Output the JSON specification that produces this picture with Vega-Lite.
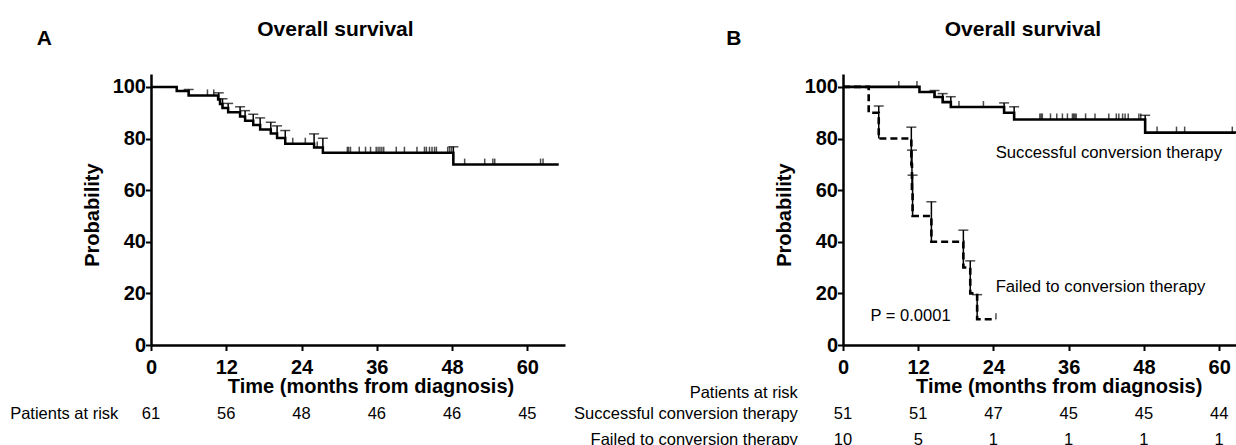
{
  "$schema": "https://vega.github.io/schema/vega-lite/v6.json",
  "background": "white",
  "padding": {"left": 10, "top": 19, "right": 0, "bottom": 0},
  "bounds": "flush",
  "spacing": 278,
  "config": {
    "font": "Liberation Sans",
    "view": {"stroke": null},
    "axis": {
      "grid": false,
      "domainColor": "black",
      "domainWidth": 2.5,
      "tickColor": "black",
      "tickWidth": 2,
      "tickSize": 5.5,
      "labelFont": "Liberation Sans",
      "labelFontSize": 20,
      "labelFontWeight": "bold",
      "labelColor": "black",
      "labelOverlap": false,
      "labelFlush": false,
      "titleFont": "Liberation Sans",
      "titleFontSize": 20,
      "titleFontWeight": "bold",
      "titleColor": "black"
    },
    "text": {"color": "black", "font": "Liberation Sans"}
  },
  "datasets": {
    "curveA": [
      {"t": 0, "s": 100}, {"t": 4.1, "s": 98.4}, {"t": 6.0, "s": 96.7}, {"t": 10.7, "s": 95.1},
      {"t": 11.0, "s": 93.4}, {"t": 11.4, "s": 91.8}, {"t": 12.3, "s": 90.2}, {"t": 14.2, "s": 88.5},
      {"t": 15.0, "s": 86.9}, {"t": 16.3, "s": 85.2}, {"t": 17.4, "s": 83.5}, {"t": 19.1, "s": 81.9},
      {"t": 20.1, "s": 80.2}, {"t": 21.4, "s": 78.0}, {"t": 26.0, "s": 76.5}, {"t": 27.4, "s": 74.5},
      {"t": 48.2, "s": 69.9}, {"t": 65.0, "s": 69.9}
    ],
    "barsA": [
      {"t": 6.0, "s": 96.7, "up": 99.0}, {"t": 10.8, "s": 95.1, "up": 97.7}, {"t": 11.4, "s": 91.8, "up": 95.4},
      {"t": 12.3, "s": 90.2, "up": 93.6}, {"t": 14.2, "s": 88.5, "up": 92.3}, {"t": 15.0, "s": 86.9, "up": 90.8},
      {"t": 16.3, "s": 85.2, "up": 89.4}, {"t": 17.4, "s": 83.5, "up": 88.0}, {"t": 19.1, "s": 81.9, "up": 86.3},
      {"t": 20.1, "s": 80.2, "up": 84.9}, {"t": 21.4, "s": 78.0, "up": 83.1}, {"t": 26.0, "s": 76.5, "up": 81.8},
      {"t": 27.4, "s": 74.5, "up": 80.1}, {"t": 48.2, "s": 69.9, "up": 76.8}
    ],
    "censA": [
      {"t": 9.0, "s": 96.7}, {"t": 10.0, "s": 96.7}, {"t": 22.6, "s": 78.0}, {"t": 24.6, "s": 78.0}, {"t": 26.5, "s": 76.5},
      {"t": 31.3, "s": 74.5}, {"t": 31.5, "s": 74.5}, {"t": 31.8, "s": 74.5}, {"t": 33.2, "s": 74.5}, {"t": 34.2, "s": 74.5},
      {"t": 35.0, "s": 74.5}, {"t": 35.9, "s": 74.5}, {"t": 36.2, "s": 74.5}, {"t": 36.5, "s": 74.5}, {"t": 36.8, "s": 74.5},
      {"t": 37.1, "s": 74.5}, {"t": 39.1, "s": 74.5}, {"t": 40.4, "s": 74.5}, {"t": 42.4, "s": 74.5}, {"t": 43.6, "s": 74.5},
      {"t": 43.9, "s": 74.5}, {"t": 44.4, "s": 74.5}, {"t": 44.8, "s": 74.5}, {"t": 45.2, "s": 74.5}, {"t": 45.5, "s": 74.5},
      {"t": 47.3, "s": 74.5}, {"t": 47.6, "s": 74.5}, {"t": 47.9, "s": 74.5},
      {"t": 50.0, "s": 69.9}, {"t": 53.2, "s": 69.9}, {"t": 54.5, "s": 69.9}, {"t": 54.8, "s": 69.9}, {"t": 62.1, "s": 69.9}, {"t": 62.5, "s": 69.9}
    ],
    "riskA": [
      {"t": 0, "n": 61}, {"t": 12, "n": 56}, {"t": 24, "n": 48}, {"t": 36, "n": 46}, {"t": 48, "n": 46}, {"t": 60, "n": 45}
    ],
    "curveB": [
      {"group": "Successful", "t": 0, "s": 100}, {"group": "Successful", "t": 12.2, "s": 98.0},
      {"group": "Successful", "t": 14.6, "s": 96.1}, {"group": "Successful", "t": 15.9, "s": 94.1},
      {"group": "Successful", "t": 17.2, "s": 92.2}, {"group": "Successful", "t": 25.7, "s": 90.0},
      {"group": "Successful", "t": 27.3, "s": 87.4}, {"group": "Successful", "t": 48.2, "s": 82.3},
      {"group": "Successful", "t": 62.85, "s": 82.3},
      {"group": "Failed", "t": 0, "s": 100}, {"group": "Failed", "t": 4.1, "s": 90}, {"group": "Failed", "t": 5.7, "s": 80},
      {"group": "Failed", "t": 10.9, "s": 70}, {"group": "Failed", "t": 11.0, "s": 60}, {"group": "Failed", "t": 11.1, "s": 50},
      {"group": "Failed", "t": 14.1, "s": 40}, {"group": "Failed", "t": 19.2, "s": 30}, {"group": "Failed", "t": 20.3, "s": 20},
      {"group": "Failed", "t": 21.4, "s": 10}, {"group": "Failed", "t": 24.4, "s": 10}
    ],
    "barsB": [
      {"group": "Successful", "t": 14.6, "s": 96.1, "up": 98.6}, {"group": "Successful", "t": 15.9, "s": 94.1, "up": 97.4},
      {"group": "Successful", "t": 17.2, "s": 92.2, "up": 96.2}, {"group": "Successful", "t": 25.7, "s": 90.0, "up": 93.8},
      {"group": "Successful", "t": 27.3, "s": 87.4, "up": 92.3}, {"group": "Successful", "t": 48.2, "s": 82.3, "up": 89.0},
      {"group": "Failed", "t": 5.7, "s": 80, "up": 92.6}, {"group": "Failed", "t": 10.9, "s": 70, "up": 84.4},
      {"group": "Failed", "t": 11.0, "s": 60, "up": 75.5}, {"group": "Failed", "t": 11.1, "s": 50, "up": 65.8},
      {"group": "Failed", "t": 14.1, "s": 40, "up": 55.5}, {"group": "Failed", "t": 19.2, "s": 30, "up": 44.5},
      {"group": "Failed", "t": 20.3, "s": 20, "up": 32.6}, {"group": "Failed", "t": 21.4, "s": 10, "up": 19.5}
    ],
    "censB": [
      {"t": 8.9, "s": 100}, {"t": 11.8, "s": 100}, {"t": 18.5, "s": 92.2}, {"t": 22.4, "s": 92.2},
      {"t": 31.4, "s": 87.4}, {"t": 31.6, "s": 87.4}, {"t": 31.8, "s": 87.4}, {"t": 33.1, "s": 87.4}, {"t": 34.1, "s": 87.4},
      {"t": 35.0, "s": 87.4}, {"t": 35.8, "s": 87.4}, {"t": 36.6, "s": 87.4}, {"t": 36.8, "s": 87.4}, {"t": 37.0, "s": 87.4},
      {"t": 37.2, "s": 87.4}, {"t": 38.7, "s": 87.4}, {"t": 40.2, "s": 87.4}, {"t": 42.4, "s": 87.4}, {"t": 43.6, "s": 87.4},
      {"t": 44.0, "s": 87.4}, {"t": 44.6, "s": 87.4}, {"t": 45.0, "s": 87.4}, {"t": 45.5, "s": 87.4}, {"t": 47.2, "s": 87.4},
      {"t": 47.5, "s": 87.4}, {"t": 50.1, "s": 82.3}, {"t": 53.2, "s": 82.3}, {"t": 54.5, "s": 82.3}, {"t": 62.1, "s": 82.3},
      {"t": 24.4, "s": 10}
    ],
    "riskB": [
      {"group": "Successful", "t": 0, "n": 51}, {"group": "Successful", "t": 12, "n": 51}, {"group": "Successful", "t": 24, "n": 47},
      {"group": "Successful", "t": 36, "n": 45}, {"group": "Successful", "t": 48, "n": 45}, {"group": "Successful", "t": 60, "n": 44},
      {"group": "Failed", "t": 0, "n": 10}, {"group": "Failed", "t": 12, "n": 5}, {"group": "Failed", "t": 24, "n": 1},
      {"group": "Failed", "t": 36, "n": 1}, {"group": "Failed", "t": 48, "n": 1}, {"group": "Failed", "t": 60, "n": 1}
    ]
  },
  "hconcat": [
    {
      "width": 414,
      "height": 271,
      "layer": [
        {
          "data": {"name": "curveA"},
          "mark": {"type": "line", "interpolate": "step-after", "color": "black", "strokeWidth": 2.5},
          "encoding": {
            "x": {"field": "t", "type": "quantitative", "scale": {"domain": [0, 66], "nice": false},
              "axis": {"values": [0, 12, 24, 36, 48, 60], "title": "Time (months from diagnosis)", "labelPadding": 7,
                "titleX": 219.5, "titleY": 47, "titleAlign": "center", "titleBaseline": "alphabetic"}},
            "y": {"field": "s", "type": "quantitative", "scale": {"domain": [0, 105], "nice": false},
              "axis": {"values": [0, 20, 40, 60, 80, 100], "title": "Probability", "labelPadding": 0,
                "titleX": -59, "titleY": 140.6, "titleAlign": "center", "titleBaseline": "middle"}}
          }
        },
        {
          "data": {"name": "barsA"},
          "mark": {"type": "rule", "color": "black", "strokeWidth": 1.5},
          "encoding": {
            "x": {"field": "t", "type": "quantitative"},
            "y": {"field": "s", "type": "quantitative"},
            "y2": {"field": "up"}
          }
        },
        {
          "data": {"name": "barsA"},
          "mark": {"type": "tick", "orient": "horizontal", "color": "black", "thickness": 1.5, "size": 10},
          "encoding": {
            "x": {"field": "t", "type": "quantitative"},
            "y": {"field": "up", "type": "quantitative"}
          }
        },
        {
          "data": {"name": "censA"},
          "mark": {"type": "tick", "orient": "vertical", "color": "black", "thickness": 1.5, "size": 6, "yOffset": -3},
          "encoding": {
            "x": {"field": "t", "type": "quantitative"},
            "y": {"field": "s", "type": "quantitative"}
          }
        },
        {
          "data": {"name": "riskA"},
          "mark": {"type": "text", "fontSize": 16.5, "baseline": "middle"},
          "encoding": {
            "x": {"field": "t", "type": "quantitative"},
            "y": {"datum": -26.7, "type": "quantitative"},
            "text": {"field": "n"}
          }
        },
        {
          "data": {"values": [{}]},
          "mark": {"type": "text", "text": "Patients at risk", "fontSize": 16.5, "align": "right", "baseline": "middle"},
          "encoding": {"x": {"datum": -5.2, "type": "quantitative"}, "y": {"datum": -26.7, "type": "quantitative"}}
        },
        {
          "data": {"values": [{}]},
          "mark": {"type": "text", "text": "Overall survival", "fontSize": 21, "fontWeight": "bold", "align": "center", "baseline": "middle"},
          "encoding": {"x": {"datum": 29.4, "type": "quantitative"}, "y": {"datum": 122, "type": "quantitative"}}
        },
        {
          "data": {"values": [{}]},
          "mark": {"type": "text", "text": "A", "fontSize": 21, "fontWeight": "bold", "align": "center", "baseline": "middle"},
          "encoding": {"x": {"datum": -17, "type": "quantitative"}, "y": {"datum": 118.7, "type": "quantitative"}}
        }
      ]
    },
    {
      "width": 394,
      "height": 271,
      "layer": [
        {
          "data": {"name": "curveB"},
          "mark": {"type": "line", "interpolate": "step-after", "color": "black", "strokeWidth": 2.6},
          "encoding": {
            "x": {"field": "t", "type": "quantitative", "scale": {"domain": [0, 62.85], "nice": false},
              "axis": {"values": [0, 12, 24, 36, 48, 60], "title": "Time (months from diagnosis)", "labelPadding": 7,
                "titleX": 215.7, "titleY": 47, "titleAlign": "center", "titleBaseline": "alphabetic"}},
            "y": {"field": "s", "type": "quantitative", "scale": {"domain": [0, 105], "nice": false},
              "axis": {"values": [0, 20, 40, 60, 80, 100], "title": "Probability", "labelPadding": 0,
                "titleX": -59, "titleY": 140.6, "titleAlign": "center", "titleBaseline": "middle"}},
            "detail": {"field": "group"},
            "strokeDash": {"field": "group", "type": "nominal", "legend": null,
              "scale": {"domain": ["Successful", "Failed"], "range": [[1, 0], [7, 4]]}}
          }
        },
        {
          "data": {"name": "barsB"},
          "mark": {"type": "rule", "color": "black", "strokeWidth": 1.5},
          "encoding": {
            "x": {"field": "t", "type": "quantitative"},
            "y": {"field": "s", "type": "quantitative"},
            "y2": {"field": "up"}
          }
        },
        {
          "data": {"name": "barsB"},
          "mark": {"type": "tick", "orient": "horizontal", "color": "black", "thickness": 1.5, "size": 10},
          "encoding": {
            "x": {"field": "t", "type": "quantitative"},
            "y": {"field": "up", "type": "quantitative"}
          }
        },
        {
          "data": {"name": "censB"},
          "mark": {"type": "tick", "orient": "vertical", "color": "black", "thickness": 1.5, "size": 6, "yOffset": -3},
          "encoding": {
            "x": {"field": "t", "type": "quantitative"},
            "y": {"field": "s", "type": "quantitative"}
          }
        },
        {
          "data": {"name": "riskB"},
          "transform": [{"filter": "datum.group === 'Successful'"}],
          "mark": {"type": "text", "fontSize": 16.5, "baseline": "middle"},
          "encoding": {
            "x": {"field": "t", "type": "quantitative"},
            "y": {"datum": -26.7, "type": "quantitative"},
            "text": {"field": "n"}
          }
        },
        {
          "data": {"name": "riskB"},
          "transform": [{"filter": "datum.group === 'Failed'"}],
          "mark": {"type": "text", "fontSize": 16.5, "baseline": "middle"},
          "encoding": {
            "x": {"field": "t", "type": "quantitative"},
            "y": {"datum": -36.8, "type": "quantitative"},
            "text": {"field": "n"}
          }
        },
        {
          "data": {"values": [{}]},
          "mark": {"type": "text", "text": "Patients at risk", "fontSize": 16.5, "align": "right", "baseline": "middle"},
          "encoding": {"x": {"datum": -7.2, "type": "quantitative"}, "y": {"datum": -18.6, "type": "quantitative"}}
        },
        {
          "data": {"values": [{}]},
          "mark": {"type": "text", "text": "Successful conversion therapy", "fontSize": 16.5, "align": "right", "baseline": "middle"},
          "encoding": {"x": {"datum": -7.2, "type": "quantitative"}, "y": {"datum": -26.7, "type": "quantitative"}}
        },
        {
          "data": {"values": [{}]},
          "mark": {"type": "text", "text": "Failed to conversion therapy", "fontSize": 16.5, "align": "right", "baseline": "middle"},
          "encoding": {"x": {"datum": -7.2, "type": "quantitative"}, "y": {"datum": -36.8, "type": "quantitative"}}
        },
        {
          "data": {"values": [{}]},
          "mark": {"type": "text", "text": "Successful conversion therapy", "fontSize": 16.7, "align": "left", "baseline": "middle"},
          "encoding": {"x": {"datum": 24.35, "type": "quantitative"}, "y": {"datum": 74.4, "type": "quantitative"}}
        },
        {
          "data": {"values": [{}]},
          "mark": {"type": "text", "text": "Failed to conversion therapy", "fontSize": 16.7, "align": "left", "baseline": "middle"},
          "encoding": {"x": {"datum": 24.35, "type": "quantitative"}, "y": {"datum": 22.5, "type": "quantitative"}}
        },
        {
          "data": {"values": [{}]},
          "mark": {"type": "text", "text": "P = 0.0001", "fontSize": 16.5, "align": "left", "baseline": "middle"},
          "encoding": {"x": {"datum": 4.4, "type": "quantitative"}, "y": {"datum": 11.2, "type": "quantitative"}}
        },
        {
          "data": {"values": [{}]},
          "mark": {"type": "text", "text": "Overall survival", "fontSize": 21, "fontWeight": "bold", "align": "center", "baseline": "middle"},
          "encoding": {"x": {"datum": 28.7, "type": "quantitative"}, "y": {"datum": 122, "type": "quantitative"}}
        },
        {
          "data": {"values": [{}]},
          "mark": {"type": "text", "text": "B", "fontSize": 21, "fontWeight": "bold", "align": "center", "baseline": "middle"},
          "encoding": {"x": {"datum": -17.4, "type": "quantitative"}, "y": {"datum": 118.7, "type": "quantitative"}}
        }
      ]
    }
  ]
}
